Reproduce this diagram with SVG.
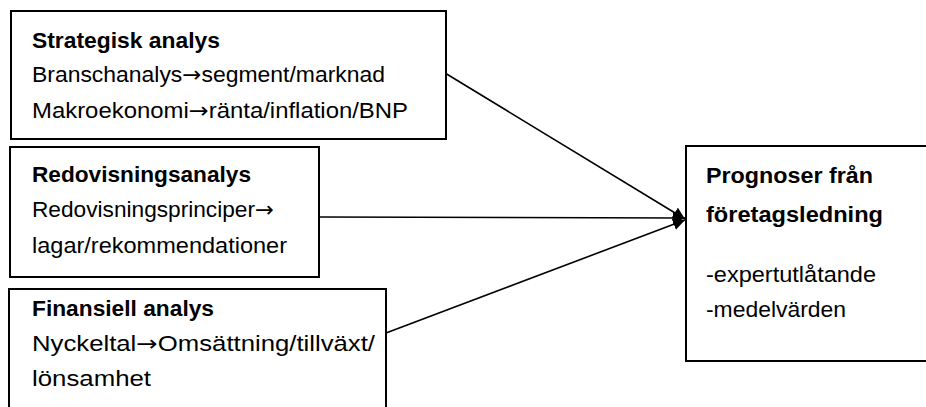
<svg xmlns="http://www.w3.org/2000/svg" width="926" height="407" viewBox="0 0 926 407">
<style>
.box{fill:#fff;stroke:#000;stroke-width:2}
.t{font-family:"Liberation Sans",Arial,sans-serif;font-size:22px;fill:#000}
.b{font-weight:bold}
.ar{font-family:"DejaVu Sans",sans-serif;font-size:22px}
.c{fill:none;stroke:#000;stroke-width:1.6}
</style>
<defs>
<marker id="ah" markerUnits="userSpaceOnUse" markerWidth="14" markerHeight="12" refX="12" refY="6" orient="auto" viewBox="0 0 14 12">
<path d="M0,0 L12,6 L0,12 z" fill="#000"/>
</marker>
</defs>
<rect x="0" y="0" width="926" height="407" fill="#fff"/>
<g id="connectors">
<line class="c" x1="445" y1="73" x2="685" y2="219" marker-end="url(#ah)"/>
<line class="c" x1="319" y1="217" x2="685" y2="218" marker-end="url(#ah)"/>
<line class="c" x1="386" y1="333" x2="685" y2="220" marker-end="url(#ah)"/>
</g>
<g id="strategisk">
<rect class="box" x="11" y="11" width="435" height="128"/>
<text class="t b" x="32" y="48" textLength="188" lengthAdjust="spacingAndGlyphs">Strategisk analys</text>
<text class="t" x="32" y="82" textLength="353" lengthAdjust="spacingAndGlyphs">Branschanalys<tspan class="ar">→</tspan>segment/marknad</text>
<text class="t" x="32" y="118" textLength="376" lengthAdjust="spacingAndGlyphs">Makroekonomi<tspan class="ar">→</tspan>ränta/inflation/BNP</text>
</g>
<g id="redovisning">
<rect class="box" x="10" y="147" width="309" height="130"/>
<text class="t b" x="32" y="182" textLength="219" lengthAdjust="spacingAndGlyphs">Redovisningsanalys</text>
<text class="t" x="32" y="217" textLength="242" lengthAdjust="spacingAndGlyphs">Redovisningsprinciper<tspan class="ar">→</tspan></text>
<text class="t" x="32" y="253" textLength="255" lengthAdjust="spacingAndGlyphs">lagar/rekommendationer</text>
</g>
<g id="finansiell">
<rect class="box" x="9" y="289" width="377" height="130"/>
<text class="t b" x="32" y="316" textLength="182" lengthAdjust="spacingAndGlyphs">Finansiell analys</text>
<text class="t" x="32" y="351" textLength="343" lengthAdjust="spacingAndGlyphs">Nyckeltal<tspan class="ar">→</tspan>Omsättning/tillväxt/</text>
<text class="t" x="32" y="386" textLength="119" lengthAdjust="spacingAndGlyphs">lönsamhet</text>
</g>
<g id="prognoser">
<rect class="box" x="686" y="146" width="250" height="215"/>
<text class="t b" x="706" y="183" textLength="167" lengthAdjust="spacingAndGlyphs">Prognoser från</text>
<text class="t b" x="706" y="222" textLength="177" lengthAdjust="spacingAndGlyphs">företagsledning</text>
<text class="t" x="706" y="282" textLength="170" lengthAdjust="spacingAndGlyphs">-expertutlåtande</text>
<text class="t" x="706" y="317" textLength="140" lengthAdjust="spacingAndGlyphs">-medelvärden</text>
</g>
</svg>
